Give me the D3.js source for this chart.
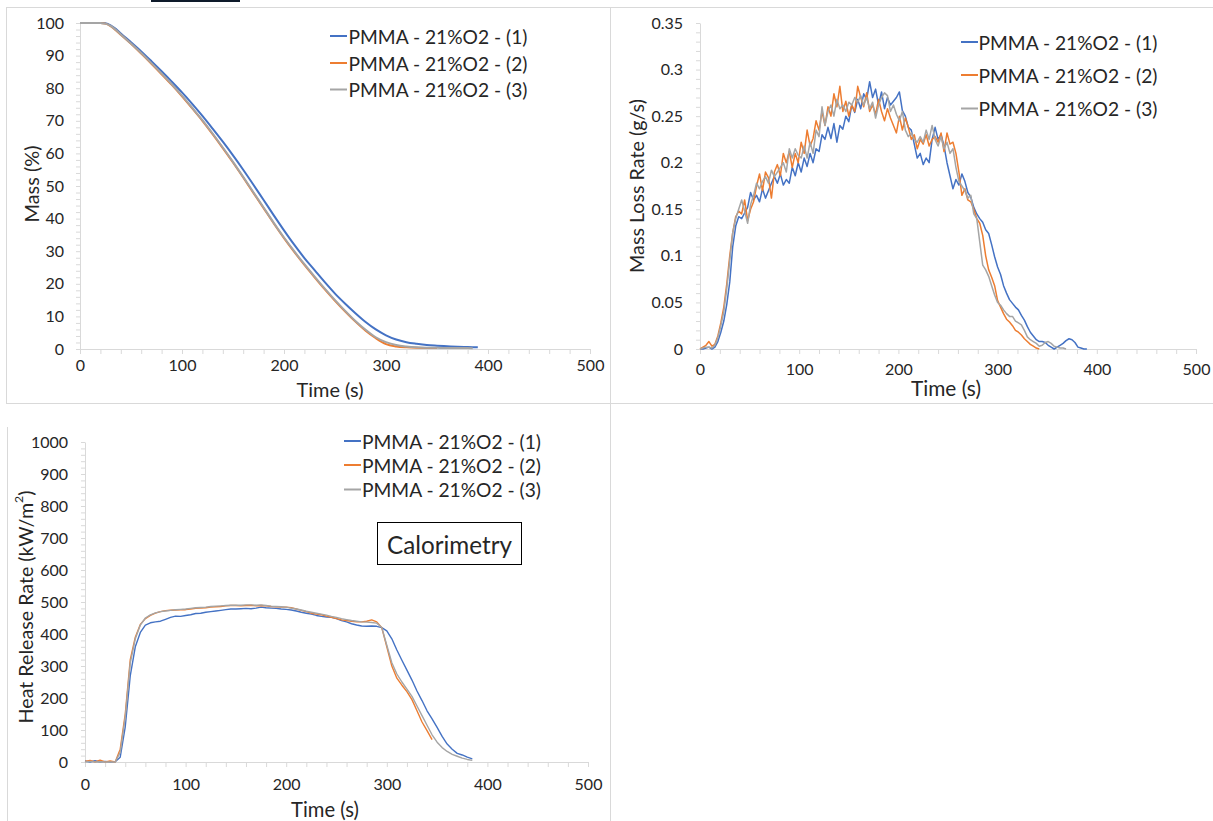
<!DOCTYPE html>
<html><head><meta charset="utf-8">
<script src="https://cdn.jsdelivr.net/npm/d3@7"></script>
<style>
body{margin:0;background:#fff;}
svg{display:block;}
text{font-family:Lato,"Open Sans",sans-serif;fill:#262626;}
</style>
</head><body>
<svg id="c" width="1213" height="821"></svg>
<script>
// ---------------- DATA ----------------
const seriesNames = ["PMMA - 21%O2 - (1)", "PMMA - 21%O2 - (2)", "PMMA - 21%O2 - (3)"];
const seriesColors = ["#4472C4", "#ED7D31", "#A5A5A5"];
const xTickValues = [0, 100, 200, 300, 400, 500];

// Mass (%) vs time (s)
const massTime1 = [0,10,20,25,30,35,40,50,60,70,80,90,100,110,120,130,140,150,160,170,180,190,200,210,220,230,240,250,260,270,280,290,300,310,320,330,340,350,360,370,380,390];
const mass1 = [100,100,100,99.9,99.3,98.2,96.8,94.1,91.3,88.3,85.2,82,78.7,75.2,71.5,67.6,63.6,59.4,55,50.4,45.7,41,36.4,32,27.9,24.2,20.5,17,13.9,11,8.3,6,4.2,2.9,2.1,1.6,1.2,1,0.85,0.7,0.6,0.5];
const massTime2 = [0,10,20,25,30,35,40,50,60,70,80,90,100,110,120,130,140,150,160,170,180,190,200,210,220,230,240,250,260,270,280,290,300,310,320,330,340,350];
const mass2 = [100,100,100,99.8,99.0,97.8,96.4,93.6,90.6,87.5,84.3,81,77.5,73.8,70,65.9,61.6,57.2,52.6,47.9,43.2,38.5,34,29.8,25.8,22,18.3,14.8,11.5,8.4,5.6,3.3,1.5,0.8,0.5,0.35,0.3,0.3];
const massTime3 = [0,10,20,25,30,35,40,50,60,70,80,90,100,110,120,130,140,150,160,170,180,190,200,210,220,230,240,250,260,270,280,290,300,310,320,330,340,350,360,370,380,385];
const mass3 = [100,100,100,99.8,99.1,97.9,96.5,93.7,90.8,87.7,84.5,81.2,77.7,74,70.2,66.1,61.8,57.4,52.8,48.1,43.4,38.7,34.2,30,26,22.2,18.5,15,11.7,8.6,5.9,3.6,2.1,1.2,0.75,0.5,0.4,0.35,0.3,0.3,0.28,0.25];
const massTicks = [0,10,20,30,40,50,60,70,80,90,100];

// Mass loss rate (g/s), sampled every 3 s from t = 0
const mlrStep = 3;
const mlr1 = [0,0,0.001,0.002,0,0.002,0.008,0.018,0.03,0.048,0.072,0.11,0.132,0.142,0.14,0.146,0.152,0.168,0.16,0.165,0.158,0.172,0.162,0.17,0.178,0.185,0.178,0.188,0.176,0.182,0.178,0.195,0.186,0.2,0.19,0.205,0.196,0.21,0.2,0.215,0.212,0.23,0.225,0.238,0.226,0.242,0.222,0.24,0.236,0.25,0.244,0.262,0.254,0.268,0.258,0.274,0.268,0.287,0.27,0.279,0.262,0.276,0.258,0.27,0.262,0.266,0.27,0.276,0.256,0.25,0.238,0.235,0.22,0.205,0.21,0.198,0.205,0.2,0.225,0.238,0.225,0.23,0.218,0.2,0.186,0.172,0.182,0.176,0.188,0.18,0.168,0.163,0.152,0.145,0.14,0.136,0.128,0.124,0.112,0.099,0.088,0.08,0.068,0.06,0.053,0.049,0.045,0.042,0.036,0.031,0.024,0.018,0.014,0.01,0.008,0.008,0.007,0.004,0.002,0,0.002,0.004,0.006,0.009,0.011,0.01,0.007,0.002,0.001,0,0];
const mlr2 = [0,0.002,0.004,0.008,0.003,0.005,0.014,0.028,0.045,0.07,0.1,0.125,0.142,0.148,0.145,0.16,0.138,0.15,0.158,0.175,0.188,0.17,0.19,0.184,0.162,0.19,0.198,0.186,0.21,0.2,0.212,0.195,0.21,0.2,0.222,0.21,0.235,0.218,0.226,0.245,0.235,0.255,0.24,0.26,0.25,0.274,0.26,0.282,0.255,0.266,0.25,0.262,0.255,0.282,0.27,0.26,0.275,0.255,0.262,0.252,0.268,0.255,0.245,0.258,0.248,0.24,0.232,0.25,0.235,0.248,0.238,0.225,0.23,0.215,0.225,0.22,0.23,0.218,0.225,0.228,0.222,0.232,0.212,0.232,0.22,0.222,0.21,0.19,0.165,0.172,0.16,0.158,0.15,0.14,0.135,0.122,0.1,0.085,0.077,0.068,0.052,0.045,0.038,0.032,0.029,0.025,0.02,0.018,0.015,0.011,0.008,0.005,0.003,0.001,0];
const mlr3 = [0,0.001,0.002,0.002,0.001,0.004,0.012,0.025,0.04,0.065,0.095,0.125,0.14,0.15,0.16,0.148,0.135,0.155,0.165,0.178,0.172,0.18,0.185,0.178,0.192,0.185,0.19,0.195,0.2,0.19,0.215,0.205,0.215,0.208,0.205,0.218,0.205,0.222,0.21,0.235,0.228,0.26,0.24,0.255,0.262,0.25,0.268,0.258,0.262,0.255,0.265,0.262,0.27,0.265,0.272,0.262,0.27,0.258,0.265,0.248,0.262,0.27,0.275,0.272,0.255,0.262,0.252,0.245,0.255,0.235,0.228,0.232,0.225,0.222,0.228,0.222,0.235,0.225,0.24,0.225,0.218,0.228,0.215,0.222,0.21,0.215,0.195,0.18,0.175,0.17,0.162,0.165,0.145,0.14,0.115,0.09,0.085,0.078,0.068,0.058,0.05,0.047,0.042,0.038,0.035,0.035,0.03,0.028,0.026,0.02,0.013,0.01,0.008,0.006,0.003,0.004,0.007,0.008,0.006,0.003,0.002,0.001,0.001,0];
const mlrTicks = [0,0.05,0.1,0.15,0.2,0.25,0.3,0.35];
const mlrTickLabels = ["0","0.05","0.1","0.15","0.2","0.25","0.3","0.35"];

// Heat release rate (kW/m2), sampled every 5 s from t = 0
const hrrStep = 5;
const hrr1 = [3,0,4,0,2,0,1,15,110,270,360,405,428,435,438,440,446,452,456,455,458,460,464,465,468,470,472,474,476,478,478,479,480,479,481,484,482,481,480,478,477,475,472,468,465,462,458,455,453,452,448,442,438,432,428,425,424,425,424,420,410,385,350,318,287,256,222,192,160,135,108,80,56,40,27,22,15,10];
const hrr2 = [2,5,0,6,0,3,0,40,150,320,390,430,448,458,465,470,473,474,475,476,476,478,480,481,482,484,485,486,488,489,489,488,489,490,488,489,488,486,485,484,484,482,478,474,470,465,462,460,456,452,448,444,442,440,438,438,440,444,438,420,360,300,262,240,220,195,160,125,98,70];
const hrr3 = [0,2,0,1,0,0,0,30,140,310,385,428,450,460,466,470,472,474,476,477,478,480,482,483,484,486,487,488,489,490,490,490,491,491,490,491,489,487,486,485,484,481,478,475,471,468,465,462,459,455,452,448,445,442,440,438,437,436,434,420,365,310,275,250,228,205,175,145,115,85,62,45,33,24,18,12,8,5];
const hrrTicks = [0,100,200,300,400,500,600,700,800,900,1000];

// ---------------- DRAWING ----------------
const svg = d3.select("#c");
const GRID = "#d9d9d9";

// panel frames
svg.append("rect").attr("x",6.5).attr("y",7.5).attr("width",604).attr("height",396).attr("fill","none").attr("stroke",GRID);
svg.append("rect").attr("x",610.5).attr("y",7.5).attr("width",610).attr("height",396).attr("fill","none").attr("stroke",GRID);
svg.append("line").attr("x1",7.5).attr("x2",7.5).attr("y1",427).attr("y2",821).attr("stroke",GRID);
svg.append("line").attr("x1",610.5).attr("x2",610.5).attr("y1",403).attr("y2",821).attr("stroke",GRID);
svg.append("rect").attr("x",151).attr("y",0).attr("width",89).attr("height",2).attr("fill","#0f1b2b");

function fitText(sel, target) {
  const n = sel.node();
  const fs = parseFloat(sel.attr("font-size"));
  const w = n.getComputedTextLength();
  if (w > 0) sel.attr("font-size", (fs * target / w).toFixed(2));
}

function panel(cfg) {
  const g = svg.append("g");
  const x = d3.scaleLinear().domain([0, 500]).range([cfg.left, cfg.right]);
  const y = d3.scaleLinear().domain([0, cfg.yMax]).range([cfg.bottom, cfg.top]);

  // minor tick marks + axis lines
  const gx = g.append("g").attr("transform", `translate(0,${cfg.bottom})`)
    .call(d3.axisBottom(x).tickValues(d3.range(0, 501, 20)).tickSize(5).tickSizeOuter(0).tickFormat(""));
  const gy = g.append("g").attr("transform", `translate(${cfg.left},0)`)
    .call(d3.axisLeft(y).tickValues(d3.range(0, cfg.yMax * 1.0001, cfg.yMinor)).tickSize(4).tickSizeOuter(0).tickFormat(""));
  [gx, gy].forEach(s => { s.select(".domain").attr("stroke", GRID); s.selectAll("line").attr("stroke", GRID); });

  // tick labels
  const lx = g.append("g").attr("transform", `translate(0,${cfg.bottom})`)
    .call(d3.axisBottom(x).tickValues(xTickValues).tickSize(0).tickPadding(cfg.xPad));
  const ly = g.append("g").attr("transform", `translate(${cfg.left},0)`)
    .call(d3.axisLeft(y).tickValues(cfg.yTicks).tickSize(0).tickPadding(cfg.yPad).tickFormat((d, i) => cfg.yLabels[i]));
  [lx, ly].forEach(s => {
    s.select(".domain").remove();
    s.selectAll("text").attr("font-family", "Lato").attr("font-size", 16).attr("fill", "#262626");
  });

  // series
  const line = d3.line().x(d => x(d[0])).y(d => y(d[1]));
  if (cfg.curve) line.curve(cfg.curve);
  cfg.series.forEach((s, i) => {
    g.append("path").datum(d3.zip(s.t, s.v)).attr("fill", "none")
      .attr("stroke", seriesColors[i]).attr("stroke-width", cfg.lw)
      .attr("stroke-linejoin", "round").attr("d", line);
  });

  // axis titles
  const xt = g.append("text").attr("x", cfg.xTitle[0]).attr("y", cfg.xTitle[1])
    .attr("text-anchor", "middle").attr("dominant-baseline", "central").attr("font-size", 20).text("Time (s)");
  fitText(xt, cfg.xTitle[2]);
  const yt = g.append("text").attr("transform", `translate(${cfg.yTitle[0]},${cfg.yTitle[1]}) rotate(-90)`)
    .attr("text-anchor", "middle").attr("dominant-baseline", "central").attr("font-size", 20);
  if (cfg.yTitleSup) {
    yt.append("tspan").text(cfg.yTitleText);
    yt.append("tspan").attr("font-size", "0.62em").attr("dy", "-0.55em").text(cfg.yTitleSup);
    yt.append("tspan").attr("dy", "0.34em").text(")");
  } else yt.text(cfg.yTitleText);
  fitText(yt, cfg.yTitle[2]);

  // legend
  cfg.legend.ys.forEach((ly0, i) => {
    g.append("line").attr("x1", cfg.legend.x0).attr("x2", cfg.legend.x1).attr("y1", ly0).attr("y2", ly0)
      .attr("stroke", seriesColors[i]).attr("stroke-width", 2);
    const t = g.append("text").attr("x", cfg.legend.tx).attr("y", ly0).attr("dominant-baseline", "central")
      .attr("font-size", 20).attr("fill", "#000").text(seriesNames[i]);
    fitText(t, cfg.legend.w);
  });
  return { x, y, g };
}

const tFrom = (arr, step) => arr.map((_, i) => i * step);

panel({
  left: 80, right: 590, top: 23, bottom: 349, yMax: 100, yMinor: 2,
  yTicks: massTicks, yLabels: massTicks.map(String), xPad: 11, yPad: 16,
  curve: d3.curveMonotoneX, lw: 2,
  series: [{ t: massTime1, v: mass1 }, { t: massTime2, v: mass2 }, { t: massTime3, v: mass3 }],
  xTitle: [330, 389, 67], yTitle: [31, 184, 77], yTitleText: "Mass (%)",
  legend: { x0: 330, x1: 347, tx: 348.5, w: 179, ys: [36, 63, 89.5] }
});

panel({
  left: 700, right: 1196, top: 23, bottom: 349, yMax: 0.35, yMinor: 0.01,
  yTicks: mlrTicks, yLabels: mlrTickLabels, xPad: 15, yPad: 17,
  lw: 1.5,
  series: [{ t: tFrom(mlr1, mlrStep), v: mlr1 }, { t: tFrom(mlr2, mlrStep), v: mlr2 }, { t: tFrom(mlr3, mlrStep), v: mlr3 }],
  xTitle: [946, 387, 70], yTitle: [636, 186, 174], yTitleText: "Mass Loss Rate (g/s)",
  legend: { x0: 961, x1: 978, tx: 978.5, w: 179, ys: [42, 75, 108.5] }
});

const p3 = panel({
  left: 85, right: 588, top: 442, bottom: 762, yMax: 1000, yMinor: 20,
  yTicks: hrrTicks, yLabels: hrrTicks.map(String), xPad: 17, yPad: 17,
  lw: 1.4,
  series: [{ t: tFrom(hrr1, hrrStep), v: hrr1 }, { t: tFrom(hrr2, hrrStep), v: hrr2 }, { t: tFrom(hrr3, hrrStep), v: hrr3 }],
  xTitle: [325, 809, 68], yTitle: [25, 607, 233], yTitleText: "Heat Release Rate (kW/m", yTitleSup: "2",
  legend: { x0: 344, x1: 361, tx: 362, w: 179, ys: [441, 465, 489.5] }
});

// Calorimetry annotation box
p3.g.append("rect").attr("x", 377.5).attr("y", 522.5).attr("width", 144).attr("height", 42)
  .attr("fill", "#fff").attr("stroke", "#000").attr("stroke-width", 1);
const cal = p3.g.append("text").attr("x", 449.5).attr("y", 544).attr("text-anchor", "middle")
  .attr("dominant-baseline", "central").attr("font-size", 24).attr("fill", "#000").text("Calorimetry");
fitText(cal, 125);
</script>
</body></html>
